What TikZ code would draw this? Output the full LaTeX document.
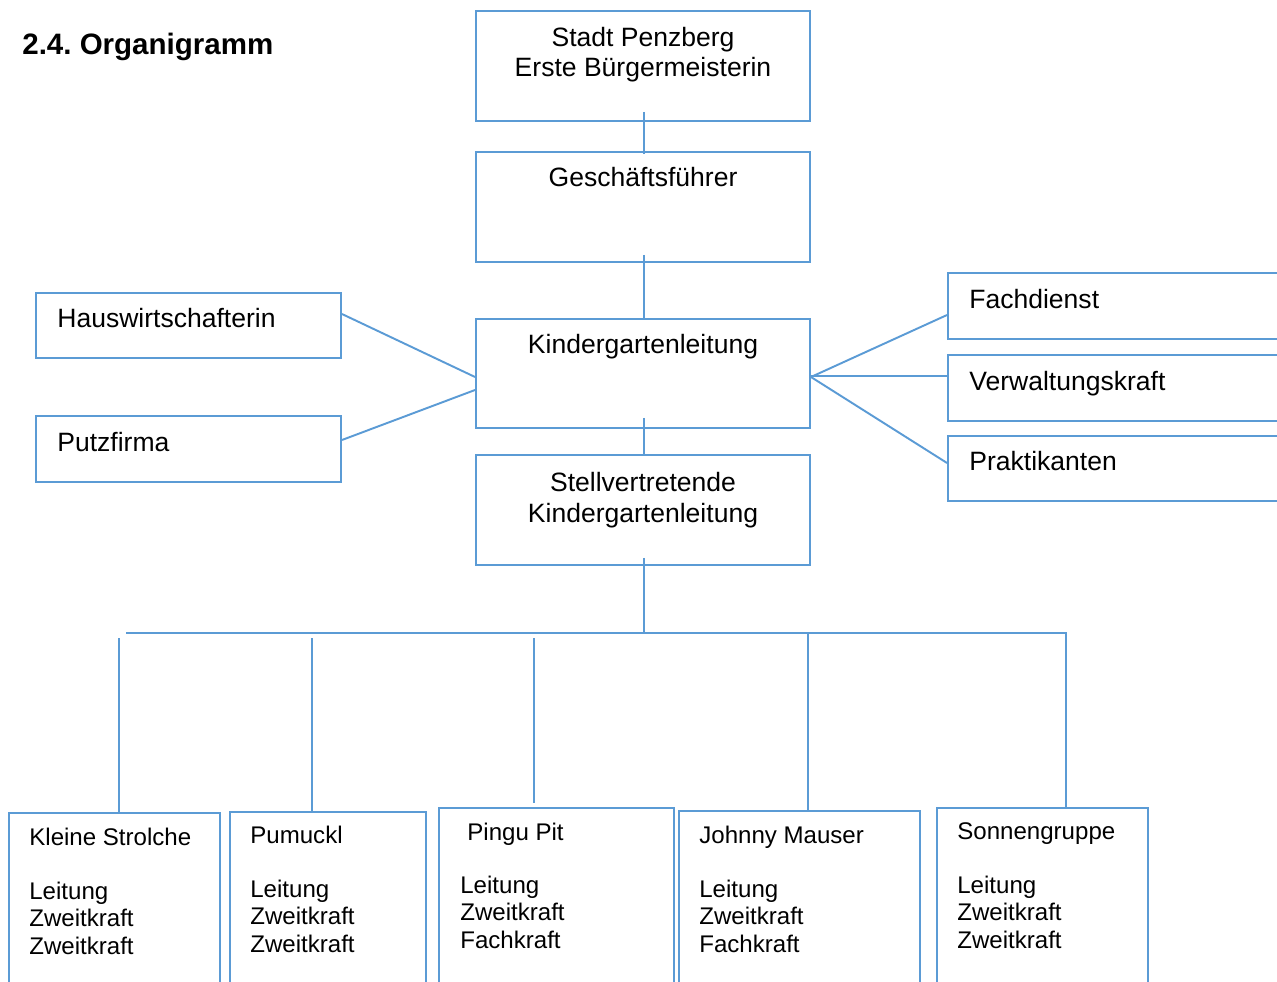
\documentclass[tikz,border=0pt]{standalone}
\usepackage{fontspec}
\setmainfont{Liberation Sans}
\usetikzlibrary{fit}
\definecolor{obl}{RGB}{91,155,213}
\tikzset{
  box/.style={draw=obl, line width=1.1pt, inner sep=0pt},
  con/.style={draw=obl, line width=1.1pt},
  bigtxt/.style={font=\fontsize{15.1pt}{17.6pt}\selectfont, inner sep=0pt, align=center},
  sidetxt/.style={font=\fontsize{15.1pt}{17.6pt}\selectfont, inner sep=0pt, anchor=base west},
  grptxt/.style={font=\fontsize{13.7pt}{15.4pt}\selectfont, inner sep=0pt, align=left, anchor=base west},
  titletxt/.style={font=\fontsize{16.8pt}{20pt}\selectfont\bfseries, inner sep=0pt, anchor=base west}
}
\begin{document}
\begin{tikzpicture}[x=0.02cm,y=-0.02cm]
\useasboundingbox (0,0) rectangle (1277,982);
\clip (0,0) rectangle (1277,982);

% title
\node[titletxt] (title) at (22,55) {2.4.\ Organigramm};

% main column boxes
\node[box, fit={(476,11) (810,121)}] (stadt) {};
\node[box, fit={(476,152) (810,262)}] (gf) {};
\node[box, fit={(476,319) (810,428)}] (kl) {};
\node[box, fit={(476,455) (810,565)}] (stell) {};

% side boxes
\node[box, fit={(36,293) (341,358)}] (hw) {};
\node[box, fit={(36,416) (341,482)}] (putz) {};
\node[box, fit={(948,273) (1295,339)}] (fach) {};
\node[box, fit={(948,355) (1295,421)}] (verw) {};
\node[box, fit={(948,436) (1295,501)}] (prak) {};

% group boxes
\node[box, fit={(9,813) (220,1000)}] (ks) {};
\node[box, fit={(230,812) (426,1000)}] (pum) {};
\node[box, fit={(439,808) (674,1000)}] (pingu) {};
\node[box, fit={(679,811) (920,1000)}] (johnny) {};
\node[box, fit={(937,808) (1148,1000)}] (sonne) {};

% texts (multi-line nodes: base anchor = last line)
\node[bigtxt, anchor=base] (tstadt) at (643,77) {Stadt Penzberg\\Erste Bürgermeisterin};
\node[bigtxt, anchor=base] (tgf) at (643,187) {Geschäftsführer};
\node[bigtxt, anchor=base] (tkl) at (643,354) {Kindergartenleitung};
\node[bigtxt, anchor=base] (tstell) at (643,522) {Stellvertretende\\Kindergartenleitung};
\node[sidetxt] (thw) at (57,328) {Hauswirtschafterin};
\node[sidetxt] (tputz) at (57,452) {Putzfirma};
\node[sidetxt] (tfach) at (969,309) {Fachdienst};
\node[sidetxt] (tverw) at (969,391) {Verwaltungskraft};
\node[sidetxt] (tprak) at (969,471) {Praktikanten};

\node[grptxt] (tks) at (29,954) {Kleine Strolche\\[15.4pt]Leitung\\Zweitkraft\\Zweitkraft};
\node[grptxt] (tpum) at (250,952) {Pumuckl\\[15.4pt]Leitung\\Zweitkraft\\Zweitkraft};
\node[grptxt] (tpingu) at (467,840) {Pingu Pit};
\node[grptxt] (tpingu2) at (460,948) {Leitung\\Zweitkraft\\Fachkraft};
\node[grptxt] (tjohnny) at (699,952) {Johnny Mauser\\[15.4pt]Leitung\\Zweitkraft\\Fachkraft};
\node[grptxt] (tsonne) at (957,948) {Sonnengruppe\\[15.4pt]Leitung\\Zweitkraft\\Zweitkraft};

% vertical chain
\draw[con] ([xshift=0.02cm,yshift=0.2cm]stadt.south) -- ([xshift=0.02cm,yshift=-0.06cm]gf.north);
\draw[con] ([xshift=0.02cm,yshift=0.16cm]gf.south) -- ([xshift=0.02cm]kl.north);
\draw[con] ([xshift=0.02cm,yshift=0.22cm]kl.south) -- ([xshift=0.02cm]stell.north);

% side connectors
\draw[con] ([yshift=0.23cm]hw.east) -- ([yshift=-0.07cm]kl.west);
\draw[con] ([yshift=0.18cm]putz.east) -- ([yshift=-0.33cm]kl.west);
\draw[con] ([yshift=-0.07cm]kl.east) -- ([yshift=-0.18cm]fach.west);
\draw[con] ([yshift=-0.05cm]kl.east) -- ([yshift=0.24cm]verw.west);
\draw[con] ([yshift=-0.07cm]kl.east) -- ([yshift=0.11cm]prak.west);

% distribution bar
\coordinate (barC) at (644,633);
\coordinate (barL) at (126,633);
\coordinate (barR) at (1066,633);
\coordinate (dks) at (119,638);
\coordinate (dpum) at (312,638);
\coordinate (dpingu) at (534,638);
\coordinate (dpingue) at (534,803);
\coordinate (djohnny) at (808,633);
\draw[con] ([xshift=0.02cm,yshift=0.16cm]stell.south) -- (barC);
\draw[con] (barL) -- (barR) -- (barR |- sonne.north);
\draw[con] (dks) -- (dks |- ks.north);
\draw[con] (dpum) -- (dpum |- pum.north);
\draw[con] (dpingu) -- (dpingue);
\draw[con] (djohnny) -- (djohnny |- johnny.north);
\end{tikzpicture}
\end{document}
